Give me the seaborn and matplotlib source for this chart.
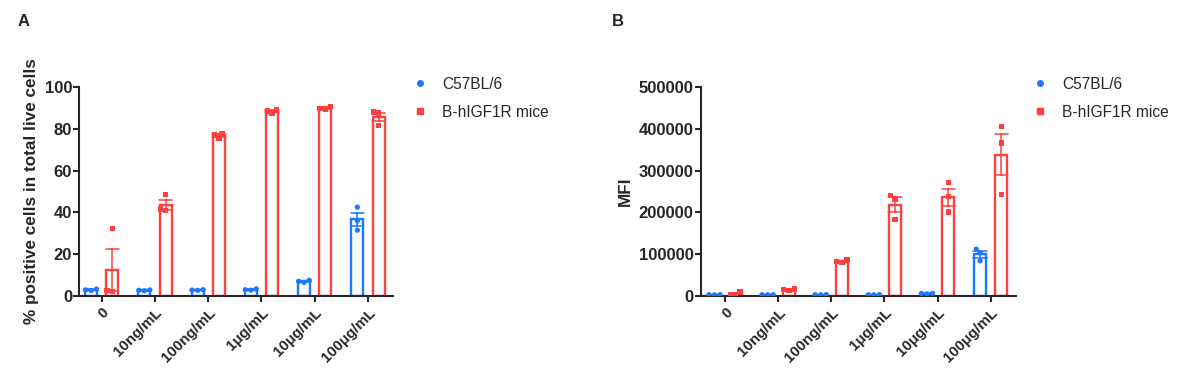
import pandas as pd
import matplotlib
matplotlib.use("Agg")
import matplotlib.pyplot as plt
from matplotlib.lines import Line2D
import seaborn as sns

# data (3 mice per group)
concentrations = ['0', '10ng/mL', '100ng/mL', '1μg/mL', '10μg/mL', '100μg/mL']
groups = ['C57BL/6', 'B-hIGF1R mice']

pct_c57 = [[2.6, 3.3, 2.9], [2.5, 2.9, 2.7], [2.7, 3.0, 2.8],
           [2.8, 3.4, 3.0], [6.5, 7.0, 7.5], [42.5, 36.0, 31.5]]
pct_hig = [[2.2, 2.6, 32.2], [41.0, 48.4, 41.6], [75.5, 77.6, 77.0],
           [87.4, 89.0, 88.5], [89.4, 90.6, 89.6], [87.5, 88.0, 81.5]]

mfi_c57 = [[3000, 3200, 2900], [2800, 3100, 3000], [2900, 3300, 3000],
           [3000, 3200, 2800], [5000, 6200, 6000], [112000, 103000, 84000]]
mfi_hig = [[2500, 10500, 3000], [13500, 17000, 15000], [80000, 86000, 83000],
           [183000, 232000, 240000], [271000, 238000, 201000], [406000, 366000, 243000]]

palette = {'C57BL/6': '#1f77ff', 'B-hIGF1R mice': '#ff4040'}


def to_long(c57, hig):
    rows = []
    for i, conc in enumerate(concentrations):
        for v in c57[i]:
            rows.append((conc, 'C57BL/6', v))
        for v in hig[i]:
            rows.append((conc, 'B-hIGF1R mice', v))
    return pd.DataFrame(rows, columns=['conc', 'group', 'value'])


df_pct = to_long(pct_c57, pct_hig)
df_mfi = to_long(mfi_c57, mfi_hig)

sns.set_style('ticks')
plt.rcParams['font.family'] = ['Liberation Sans', 'DejaVu Sans']

fig = plt.figure(figsize=(11.87, 3.8), dpi=100)
ax_a = fig.add_axes([0.0666, 0.2211, 0.2645, 0.55])
ax_b = fig.add_axes([0.5903, 0.2211, 0.2654, 0.55])


def draw(ax, df, ylim, yticks, ylabel, xlim):
    sns.barplot(data=df, x='conc', y='value', hue='group', order=concentrations,
                hue_order=groups, palette=palette, fill=False, width=0.8, gap=0.44,
                errorbar='se', capsize=0.5, linewidth=1.7,
                err_kws={'linewidth': 1.1}, legend=False, ax=ax)
    markers = {'C57BL/6': 'o', 'B-hIGF1R mice': 's'}
    for g in groups:
        sub = df[df['group'] == g]
        sns.swarmplot(data=sub, x='conc', y='value', hue='group', order=concentrations,
                      hue_order=groups, palette=palette, dodge=True, size=3.8,
                      marker=markers[g], linewidth=0, legend=False, ax=ax, zorder=3)
    ax.set_ylim(*ylim)
    ax.set_yticks(yticks)
    ax.set_xlim(*xlim)
    ax.set_xlabel('')
    ax.set_ylabel(ylabel, fontsize=12.3, fontweight='bold', labelpad=4)
    for s in ['top', 'right']:
        ax.spines[s].set_visible(False)
    for s in ['left', 'bottom']:
        ax.spines[s].set_linewidth(1.5)
    ax.tick_params(axis='y', length=4, width=1.5, pad=1, labelsize=12)
    ax.tick_params(axis='x', length=4, width=1.5, pad=3, labelsize=10.8)
    for lab in ax.get_yticklabels():
        lab.set_fontweight('bold')
    ax.set_xticks(range(len(concentrations)))
    ax.set_xticklabels(concentrations, rotation=45, ha='right', rotation_mode='anchor',
                       fontweight='bold')


draw(ax_a, df_pct, (0, 100), [0, 20, 40, 60, 80, 100],
     '% positive cells in total live cells', (-0.426, 5.47))
draw(ax_b, df_mfi, (0, 500000), [0, 100000, 200000, 300000, 400000, 500000],
     'MFI', (-0.46, 5.47))

handles = [Line2D([], [], linestyle='none', marker='o', color=palette['C57BL/6'], markersize=4),
           Line2D([], [], linestyle='none', marker='s', color=palette['B-hIGF1R mice'], markersize=4)]
for x0 in (400 / 1187, 1020 / 1187):
    fig.legend(handles, groups, loc='upper left', bbox_to_anchor=(x0, 0.835),
               frameon=False, fontsize=11.2, handlelength=0.8, handletextpad=1.0,
               labelspacing=0.85)

fig.text(18 / 1187, 1 - 22 / 380, 'A', fontsize=12, fontweight='bold', va='center')
fig.text(612 / 1187, 1 - 22 / 380, 'B', fontsize=12, fontweight='bold', va='center')

fig.savefig('out.png', dpi=100)
